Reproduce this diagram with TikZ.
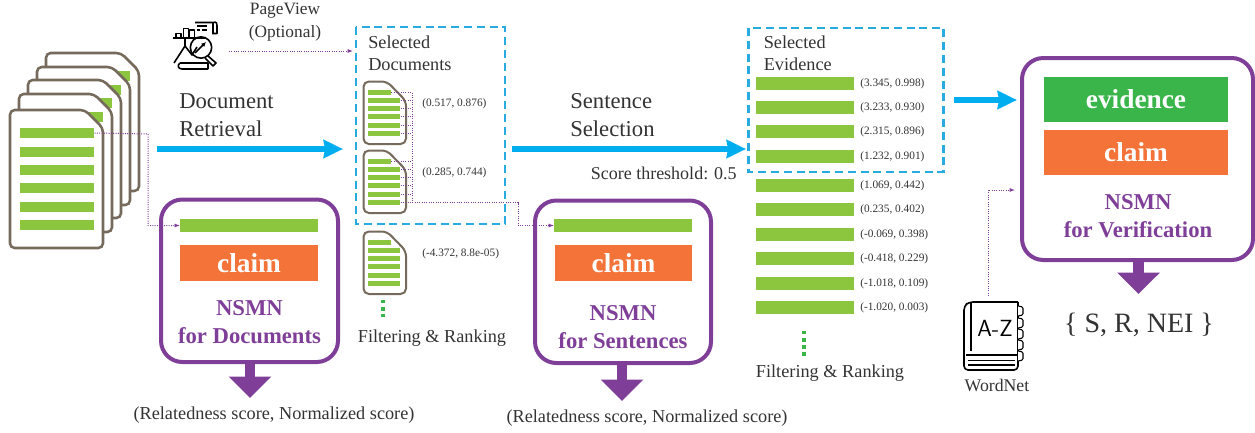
\documentclass[tikz,border=0pt]{standalone}
\usepackage{fontspec}
\setmainfont{Liberation Serif}
\usetikzlibrary{arrows.meta,positioning}
\definecolor{barGreen}{HTML}{8CC63F}
\definecolor{evGreen}{HTML}{39B54A}
\definecolor{clOrange}{HTML}{F47338}
\definecolor{nsPurple}{HTML}{7F3F98}
\definecolor{flowBlue}{HTML}{00AEEF}
\definecolor{selBlue}{HTML}{29ABE2}
\definecolor{pageBrown}{HTML}{756A5C}
\definecolor{txtGrey}{HTML}{333333}
\begin{document}
\begin{tikzpicture}[
x=0.75pt, y=-0.75pt,
every node/.style={text=txtGrey, font=\fontsize{13.7}{16.5}\selectfont},
bar/.style={fill=barGreen, inner sep=0pt, anchor=west, minimum height=#1},
bar/.default=7.5pt,
page/.style={draw=pageBrown, line width=1.9pt, fill=white, rounded corners=3.5pt},
orangebox/.style={fill=clOrange, inner sep=0pt, text=white, font=\fontsize{20.5}{24}\bfseries\selectfont},
nsmn/.style={draw=nsPurple, line width=3pt, rounded corners=16pt, inner sep=0pt},
nsmntext/.style={text=nsPurple, align=center, font=\fontsize{17}{21}\bfseries\selectfont},
flow/.style={draw=flowBlue, line width=3.8pt, -{Stealth[inset=1pt,width=13.5pt,length=14.5pt]}},
result/.style={draw=nsPurple, line width=8.2pt, -{Triangle[width=31pt,length=16pt]}},
link/.style={draw=nsPurple, densely dotted, line width=0.75pt},
linkto/.style={link, -{Latex[length=4pt,width=3pt]}},
selbox/.style={draw=selBlue, line width=1.9pt, dash pattern=on 6pt off 3.6pt, inner sep=0pt},
more/.style={draw=evGreen, line width=2.7pt, dash pattern=on 2.6pt off 2.7pt},
score/.style={font=\fontsize{8.5}{10}\selectfont, anchor=west, inner sep=0pt},
head/.style={align=left, anchor=north west, inner sep=0pt, font=\fontsize{17}{21}\selectfont},
small/.style={align=left, anchor=north west, inner sep=0pt},
icon/.style={draw=black, line width=1.2pt, line join=round}
]
\useasboundingbox (0,0) rectangle (1255,432);

% stack of retrieved pages
\foreach \p/\dx/\dy in {4/36/-57,3/27/-43,2/18/-30,1/9/-16,0/0/0}
{
  \begin{scope}[shift={(\dx,\dy)}]
    \draw[page] (10,110) -- (85,110) -- (103,128) -- (103,248) -- (10,248) -- cycle;
    \foreach \b/\by in {1/133,2/152,3/170,4/188,5/207,6/225}
      \node[bar, minimum width=55.5pt] (st\p b\b) at (20,\by) {};
  \end{scope}
}

% single pages, three of them
\foreach \d/\dy in {1/0,2/69,3/150}
{
  \begin{scope}[yshift=\dy*-0.75pt]
    \draw[page, line width=1.5pt, rounded corners=4pt] (363.5,81.5) -- (387,81.5) -- (406,101) -- (406,144) -- (363.5,144) -- cycle;
    \node[bar=3.8pt, minimum width=17.2pt] (d\d b1) at (368,92.5) {};
    \foreach \b/\by in {2/100.5,3/108.5,4/116.5,5/125.5,6/133.5}
      \node[bar=3.8pt, minimum width=24pt] (d\d b\b) at (368,\by) {};
  \end{scope}
}
\node[score] (sd1) at (422,103.5) {(0.517, 0.876)};
\node[score] (sd2) at (422,172.5) {(0.285, 0.744)};
\node[score] (sd3) at (422,253.5) {(-4.372, 8.8e-05)};

% selected boxes
\draw[selbox] (356,27) rectangle (505,224);
\node[small] (seldoc) at (368,35.5) {Selected\\Documents};
\draw[selbox] (748.5,28) rectangle (943.5,172);
\node[small] (selev) at (763.5,35.5) {Selected\\Evidence};

% evidence list
\foreach \e/\y/\v in {1/83.5/{(3.345, 0.998)},2/107.5/{(3.233, 0.930)},3/131.5/{(2.315, 0.896)},4/156.5/{(1.232, 0.901)},5/185.5/{(1.069, 0.442)},6/209.5/{(0.235, 0.402)},7/234.5/{(-0.069, 0.398)},8/258.5/{(-0.418, 0.229)},9/283.5/{(-1.018, 0.109)},10/307.5/{(-1.020, 0.003)}}
{
  \node[bar=9.75pt, minimum width=73.5pt] (ev\e) at (756,\y) {};
  \node[score] (sc\e) at (860,\y) {\v};
}

% the three networks
\draw[nsmn] (161,199.5) rectangle (338,362);
\draw[nsmn] (535,200.5) rectangle (711,363);
\draw[nsmn] (1022,58) rectangle (1253,260);
\node[bar=10pt, minimum width=103.5pt] (inD) at (180,225.5) {};
\node[bar=10pt, minimum width=103.5pt] (inS) at (554,225.5) {};
\node[orangebox, minimum width=103.5pt, minimum height=27pt] (clD) at (249,263) {claim};
\node[orangebox, minimum width=103pt, minimum height=27pt] (clS) at (623.5,263) {claim};
\node[orangebox, fill=evGreen, minimum width=138pt, minimum height=34pt] (evV) at (1136,99.5) {evidence};
\node[orangebox, minimum width=138pt, minimum height=34pt] (clV) at (1136,152.5) {claim};
\node[nsmntext] (nsD) at (249.5,322) {NSMN\\for Documents};
\node[nsmntext] (nsS) at (623,327) {NSMN\\for Sentences};
\node[nsmntext] (nsV) at (1138,216) {NSMN\\for Verification};

% outputs
\coordinate (tipD) at (250,398);
\coordinate (tipS) at (622,401);
\coordinate (tipV) at (1138.5,294);
\draw[result] (250,362) -- (tipD);
\draw[result] (622,363) -- (tipS);
\draw[result] (1138.5,260) -- (tipV);
\node (outD) at (274,415.5) {(Relatedness score, Normalized score)};
\node (outS) at (647,418.5) {(Relatedness score, Normalized score)};
\node[font=\fontsize{21}{25}\selectfont] (outV) at (1139,325) {\{ S, R, NEI \}};

% flow arrows
\coordinate (fa1) at (157,149); \coordinate (fb1) at (343,149);
\coordinate (fa2) at (512,149); \coordinate (fb2) at (746,149);
\coordinate (fa3) at (954,100); \coordinate (fb3) at (1017,100);
\draw[flow] (fa1) -- (fb1);
\draw[flow] (fa2) -- (fb2);
\draw[flow] (fa3) -- (fb3);
\node[head] (retr) at (179,93) {Document\\Retrieval};
\node[head] (sent) at (570,93) {Sentence\\Selection};
\node[anchor=east, inner sep=0pt, font=\fontsize{13.5}{16}\selectfont] (thres) at (737,173) {Score threshold: 0.5};

% dots and filter labels
\coordinate (mo1a) at (383,300); \coordinate (mo1b) at (383,317);
\coordinate (mo2a) at (804,331); \coordinate (mo2b) at (804,358);
\draw[more] (mo1a) -- (mo1b);
\draw[more] (mo2a) -- (mo2b);
\node (filt1) at (432,338) {Filtering \& Ranking};
\node (filt2) at (830,373) {Filtering \& Ranking};

% pageview icon
\node[inner sep=0pt, minimum size=36pt] (pview) at (195.5,45) {};
\node[font=\fontsize{13}{17.5}\selectfont, align=center, inner sep=0pt] (pvlab) at (285,22) {PageView\\(Optional)};
\draw[icon] (173,38) -- (205,38) (176,38) -- (176,33.5) -- (181,33.5) -- (181,38) (183.5,38) -- (183.5,28.5) -- (188.5,28.5) -- (188.5,38) (189.5,38) -- (189.5,30) -- (194.5,30) -- (194.5,38);
\draw[icon] (195,22.5) -- (213,22.5) (213,22.5) .. controls (217,21) and (217,24) .. (217,27) -- (217,33.5) -- (212,33.5) (213,22.5) -- (213,33);
\draw[icon] (197,26) -- (207,26) (197,30) -- (200,30) (202,30) -- (207,30);
\draw[icon] (201,47.5) circle (8pt);
\draw[icon, -{Latex[length=3.5pt,width=3.5pt]}] (195,53) -- (206,42);
\draw[icon] (208,56) -- (216,63) -- (213,66) -- (205,58);
\draw[icon] (174,63) -- (185,46) -- (192,55) -- (197,47) (185,38) -- (185,46);
\draw[icon] (180,63) -- (208,63) (182,69) -- (208,69) (180,63) .. controls (177,65) and (178,69) .. (182,69) (208,63) -- (208,69);

% wordnet icon
\node[inner sep=0pt, minimum width=33pt, minimum height=38pt] (wnet) at (987,325) {};
\node[font=\fontsize{13.3}{16}\selectfont, inner sep=0pt] (wnlab) at (997,385.5) {WordNet};
\draw[icon, rounded corners=3pt] (1018,302) -- (969,302) -- (964,306) -- (964,370) -- (1018,370) -- (1018,302);
\draw[icon] (971,303) -- (971,351) (966,355) -- (1018,355);
\draw[icon] (968,360.5) -- (1015,360.5) (968,365) -- (1015,365);
\foreach \t in {306,318,329,340,351}
  \draw[icon, line width=0.8pt, fill=white, rounded corners=1pt] (1018,\t) -- (1023,\t+1) -- (1023,\t+9) -- (1018,\t+10);
\node[font=\fontsize{17.5}{20}\sffamily\selectfont, text=black, inner sep=0pt] (azlab) at (995,328) {A-Z};

% dotted links
\coordinate (stk) at (148,134);
\draw[linkto] (st0b1.east) -- (stk) |- (inD.west);
\coordinate (trunk) at (412,203);
\foreach \d in {1,2}
  \foreach \b in {1,...,6}
    \draw[link] (d\d b\b.east) -- (d\d b\b.east -| trunk);
\draw[link] (d1b1.east -| trunk) -- (trunk);
\coordinate (turn) at (518,202.5);
\draw[linkto] (d2b6.east) -- (turn) |- (inS.west);
\coordinate (pva) at (229,51);
\coordinate (pvb) at (353,51);
\draw[linkto] (pva) -- (pvb);
\coordinate (wna) at (988,296);
\coordinate (wnb) at (1015,190);
\draw[linkto] (wna) |- (wnb);
\end{tikzpicture}
\end{document}
